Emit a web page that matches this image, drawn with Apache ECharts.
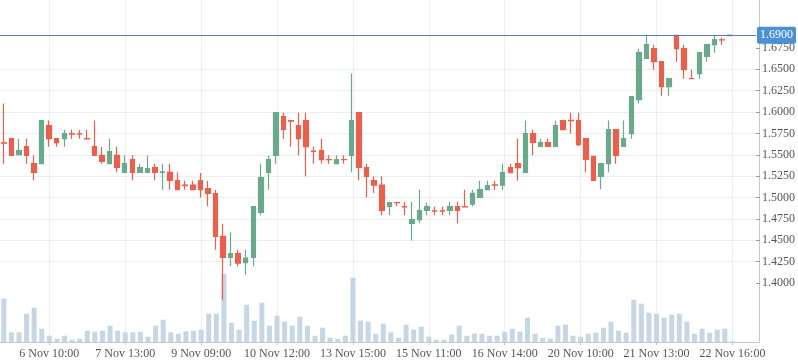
<!DOCTYPE html>
<html><head><meta charset="utf-8">
<script src="https://cdn.jsdelivr.net/npm/echarts@6/dist/echarts.min.js"></script>
<style>html,body{margin:0;padding:0;background:#fff}#c{width:798px;height:363px}</style>
</head><body><div id="c"></div>
<script>
// Category slots (100 slots, 97 filled candles); labels every 10th slot
const totalSlots = 100;
const tickIndex = [6, 16, 26, 36, 46, 56, 66, 76, 86, 96];
const tickLabels = ['6 Nov 10:00', '7 Nov 13:00', '9 Nov 09:00', '10 Nov 12:00', '13 Nov 15:00',
  '15 Nov 11:00', '16 Nov 14:00', '20 Nov 10:00', '21 Nov 13:00', '22 Nov 16:00'];
const priceTicks = [1.400, 1.425, 1.450, 1.475, 1.500, 1.525, 1.550, 1.575, 1.600, 1.625, 1.650, 1.675];
const lastPrice = 1.69;

const open = [1.5640,1.5689,1.5502,1.5595,1.5396,1.5396,1.5841,1.5689,1.5689,1.5745,
  1.5745,1.5690,1.5595,1.5494,1.5396,1.5494,1.5295,1.5443,1.5295,1.5295,
  1.5350,1.5295,1.5295,1.5197,1.5146,1.5146,1.5197,1.5104,1.5045,1.4546,
  1.4300,1.4343,1.4238,1.4300,1.4827,1.5295,1.5494,1.5946,1.5900,1.5841,
  1.5900,1.5543,1.5549,1.5445,1.5396,1.5445,1.5494,1.5993,1.5350,1.5197,
  1.5146,1.4897,1.4942,1.4893,1.4698,1.4741,1.4850,1.4845,1.4845,1.4850,
  1.4893,1.4893,1.4924,1.5002,1.5092,1.5148,1.5146,1.5350,1.5396,1.5295,
  1.5747,1.5599,1.5642,1.5599,1.5900,1.5902,1.5900,1.5689,1.5482,1.5248,
  1.5396,1.5794,1.5599,1.5747,1.6145,1.6629,1.6742,1.6590,1.6297,1.6898,
  1.6742,1.6393,1.6450,1.6652,1.6789,1.6845,1.6900];
const close = [1.5636,1.5494,1.5549,1.5494,1.5295,1.5900,1.5689,1.5642,1.5747,1.5743,
  1.5743,1.5685,1.5494,1.5424,1.5537,1.5353,1.5396,1.5295,1.5350,1.5338,
  1.5295,1.5300,1.5201,1.5092,1.5140,1.5092,1.5092,1.5049,1.4546,1.4300,
  1.4343,1.4234,1.4292,1.4893,1.5233,1.5443,1.5993,1.5798,1.5895,1.5689,
  1.5595,1.5540,1.5443,1.5443,1.5443,1.5443,1.5900,1.5353,1.5248,1.5146,
  1.4850,1.4940,1.4940,1.4890,1.4741,1.4846,1.4893,1.4842,1.4842,1.4893,
  1.4850,1.4890,1.5049,1.5092,1.5139,1.5146,1.5291,1.5291,1.5350,1.5747,
  1.5646,1.5642,1.5599,1.5841,1.5794,1.5900,1.5619,1.5447,1.5201,1.5396,
  1.5794,1.5494,1.5689,1.6180,1.6695,1.6789,1.6590,1.6297,1.6391,1.6742,
  1.6496,1.6391,1.6695,1.6789,1.6848,1.6843,1.6895];
const low = [1.5396,1.5494,1.5494,1.5396,1.5201,1.5396,1.5595,1.5595,1.5595,1.5689,
  1.5689,1.5685,1.5494,1.5396,1.5396,1.5295,1.5295,1.5201,1.5295,1.5295,
  1.5201,1.5092,1.5092,1.5092,1.5092,1.5092,1.5002,1.4897,1.4390,1.3801,
  1.4195,1.4195,1.4101,1.4195,1.4792,1.5092,1.5396,1.5689,1.5595,1.5494,
  1.5248,1.5396,1.5396,1.5396,1.5396,1.5396,1.5295,1.5201,1.5002,1.5053,
  1.4792,1.4792,1.4897,1.4792,1.4499,1.4698,1.4792,1.4792,1.4792,1.4792,
  1.4698,1.4890,1.4897,1.5002,1.5092,1.5092,1.5092,1.5291,1.5197,1.5295,
  1.5494,1.5599,1.5599,1.5599,1.5794,1.5747,1.5599,1.5295,1.5201,1.5096,
  1.5295,1.5396,1.5599,1.5689,1.6099,1.6629,1.6496,1.6192,1.6192,1.6590,
  1.6391,1.6391,1.6391,1.6590,1.6695,1.6789,1.6895];
const high = [1.6099,1.5689,1.5689,1.5689,1.5494,1.5900,1.5900,1.5689,1.5794,1.5794,
  1.5794,1.5794,1.5900,1.5595,1.5689,1.5595,1.5494,1.5494,1.5396,1.5494,
  1.5396,1.5396,1.5396,1.5295,1.5197,1.5197,1.5287,1.5197,1.5092,1.4694,
  1.4593,1.4390,1.4390,1.4893,1.5396,1.5490,1.5993,1.5993,1.5900,1.5993,
  1.5993,1.5595,1.5689,1.5494,1.5494,1.5494,1.6450,1.5993,1.5396,1.5248,
  1.5248,1.4950,1.4950,1.4950,1.4950,1.5092,1.4940,1.4893,1.4893,1.4950,
  1.4950,1.5092,1.5092,1.5197,1.5197,1.5197,1.5396,1.5396,1.5689,1.5900,
  1.5794,1.5689,1.5689,1.5900,1.5900,1.5993,1.5993,1.5689,1.5490,1.5396,
  1.5900,1.5794,1.5900,1.6180,1.6742,1.6898,1.6789,1.6590,1.6391,1.6898,
  1.6789,1.6496,1.6695,1.6789,1.6898,1.6871,1.6900];
const volume = [43.3,9.7,9.7,28.3,34.3,13.3,6.3,3.3,6.3,2.3,
  3.3,11.3,10.3,11.3,16.3,11.3,9.7,9.7,10.3,5.3,
  16.3,22.3,9.7,8.3,10.7,11.3,12.3,28.3,28.3,68.3,
  19.3,12.3,37.3,21.3,39.3,16.3,26.3,20.3,16.3,25.3,
  16.3,6.3,14.3,4.3,3.3,6.3,64.3,21.3,20.3,8.3,
  18.3,9.7,4.3,17.3,12.3,15.3,5.3,2.3,2.3,7.3,
  16.3,6.3,8.3,8.3,6.3,6.3,10.3,13.3,10.3,24.3,
  8.3,4.3,3.3,16.3,17.3,6.3,5.3,8.3,9.3,14.3,
  20.3,11.3,9.3,42.3,38.3,29.3,28.3,24.3,27.3,28.3,
  20.3,8.3,13.3,9.3,12.3,13.3,0.7];

const categories = [];
for (let i = 0; i < totalSlots; i++) {
  const k = tickIndex.indexOf(i);
  categories.push(k >= 0 ? tickLabels[k] : 'slot ' + i);
}
const candles = open.map((o, i) => [o, close[i], low[i], high[i]]);
const showIdx = (i) => tickIndex.indexOf(i) >= 0;

const UP = '#6aa98c', DOWN = '#e9604d';
const FONT = 'Liberation Serif';

const chart = echarts.init(document.getElementById('c'), null, {renderer: 'canvas'});
chart.setOption({
  animation: false,
  backgroundColor: '#fff',
  grid: [
    {left: 0, right: 39, top: 26.6, height: 277.8},
    {left: 0, right: 39, top: 0, bottom: 21}
  ],
  xAxis: [
    {type: 'category', gridIndex: 0, data: categories, boundaryGap: true, show: false},
    {type: 'category', gridIndex: 1, data: categories, boundaryGap: true,
      axisLine: {lineStyle: {color: '#c8c8c8'}},
      axisTick: {show: true, alignWithLabel: true, interval: showIdx, length: 3, lineStyle: {color: '#c8c8c8'}},
      axisLabel: {interval: showIdx, color: '#555', fontFamily: FONT, fontSize: 12, margin: 6},
      splitLine: {show: true, alignWithLabel: true, interval: showIdx, lineStyle: {color: '#eeeeee'}}}
  ],
  yAxis: [
    {type: 'value', gridIndex: 0, position: 'right', min: 1.375, max: 1.70, interval: 0.025,
      axisLine: {show: false},
      axisTick: {show: true, length: 4, customValues: priceTicks, lineStyle: {color: '#999'}},
      axisLabel: {customValues: priceTicks, formatter: v => v.toFixed(4),
        color: '#555', fontFamily: FONT, fontSize: 12, margin: 6},
      splitLine: {show: true, showMinLine: false, showMaxLine: false, lineStyle: {color: '#eeeeee'}}},
    {type: 'value', gridIndex: 1, position: 'right', min: 0, max: 342,
      axisLine: {show: true, lineStyle: {color: '#c8c8c8'}},
      axisTick: {show: false}, axisLabel: {show: false}, splitLine: {show: false}}
  ],
  series: [
    {type: 'bar', name: 'Volume', xAxisIndex: 1, yAxisIndex: 1, data: volume, barWidth: 5,
      itemStyle: {color: '#c6d6e7'}},
    {type: 'candlestick', name: 'Price', xAxisIndex: 0, yAxisIndex: 0, data: candles, barWidth: 5,
      itemStyle: {color: UP, color0: DOWN, borderColor: UP, borderColor0: DOWN, borderWidth: 1.2},
      markLine: {silent: true, symbol: ['none', 'none'], animation: false,
        data: [{yAxis: lastPrice}],
        lineStyle: {color: '#4a7fbf', width: 1, type: 'solid'},
        label: {position: 'end', formatter: lastPrice.toFixed(4), color: '#fff', backgroundColor: '#4a90d9',
          padding: [3, 3, 2, 3], borderRadius: 2, fontFamily: FONT, fontSize: 12, distance: 1}}}
  ]
});
</script>
</body></html>
